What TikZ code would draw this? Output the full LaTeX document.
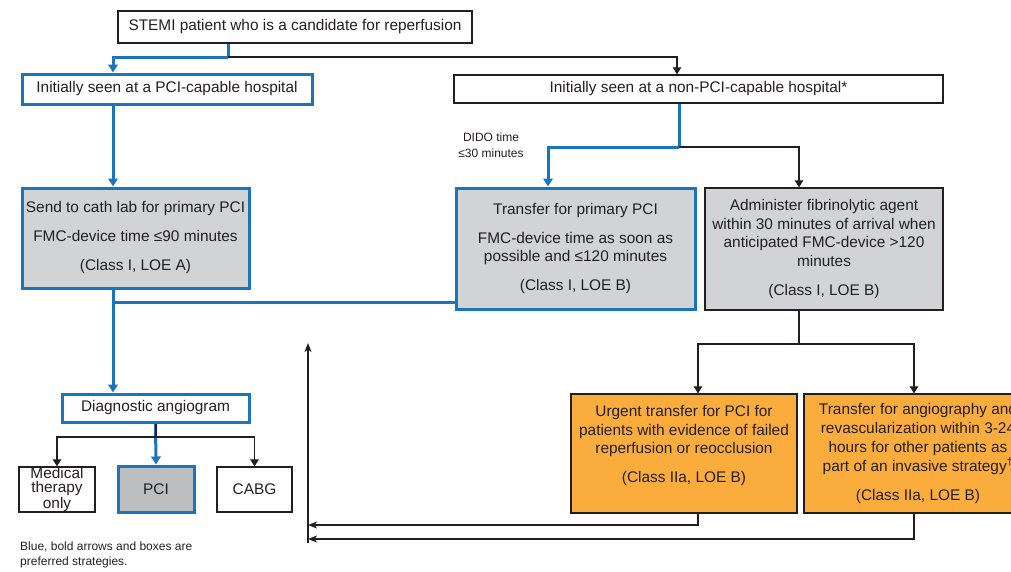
\documentclass[tikz,border=0pt]{standalone}
\usepackage{fontspec}
\setmainfont{Liberation Sans}
\usepackage{xcolor}
\usetikzlibrary{arrows.meta}

\definecolor{prefblue}{RGB}{27,117,188}
\definecolor{boxgray}{RGB}{209,211,212}
\definecolor{pcigray}{RGB}{188,190,192}
\definecolor{boxorange}{RGB}{250,173,60}
\definecolor{inkblack}{RGB}{35,31,32}

\tikzset{
  box/.style={draw=inkblack, line width=1.3pt, inner sep=0pt, align=center,
    text=inkblack, font=\fontsize{15.4}{18.7}\selectfont},
  prefbox/.style={box, draw=prefblue, line width=3pt},
  thinline/.style={draw=inkblack, line width=1.1pt, -{Triangle[length=7pt,width=8.5pt]}},
  backline/.style={draw=inkblack, line width=1.1pt, -{Stealth[length=9pt,width=7pt,inset=2.5pt]}},
  blueline/.style={draw=prefblue, line width=3pt, -{Triangle[length=8pt,width=9.5pt]}},
}

\begin{document}
\begin{tikzpicture}[x=1pt,y=-1pt]

\useasboundingbox (0,0) rectangle (1011,571);

% first level
\node[box, minimum width=354pt, minimum height=32pt] (top) at (295,27)
  {STEMI patient who is a candidate for reperfusion};
\node[prefbox, minimum width=290pt, minimum height=30pt] (pcih) at (167,89)
  {Initially seen at a PCI-capable hospital};
\node[box, minimum width=489pt, minimum height=28pt] (npcih) at (698.5,89)
  {Initially seen at a non-PCI-capable hospital*};

% reperfusion
\node[prefbox, fill=boxgray, minimum width=227pt, minimum height=100pt] (cath) at (135.5,238)
  {Send to cath lab for primary PCI\\[10.3pt] FMC-device time ≤90 minutes\\[10.3pt] (Class I, LOE A)};
\node[prefbox, fill=boxgray, minimum width=239pt, minimum height=121pt] (transfer) at (575.5,248.5)
  {Transfer for primary PCI\\[10.3pt] FMC-device time as soon as\\ possible and ≤120 minutes\\[10.3pt] (Class I, LOE B)};
\node[box, fill=boxgray, minimum width=238pt, minimum height=122pt] (fibrin) at (824,249)
  {Administer fibrinolytic agent\\ within 30 minutes of arrival when\\ anticipated FMC-device >120\\ minutes\\[10.3pt] (Class I, LOE B)};
\node[font=\fontsize{12}{16}\selectfont, text=inkblack, align=center, inner sep=0pt] (dido) at (491,145)
  {DIDO time\\ ≤30 minutes};

% angiogram
\node[prefbox, minimum width=187pt, minimum height=28pt] (diag) at (155.5,408)
  {Diagnostic angiogram};
\node[box, font=\fontsize{15.4}{14}\selectfont, minimum width=76pt, minimum height=45pt] (med) at (57,489.5)
  {Medical\\ therapy\\ only};
\node[prefbox, fill=pcigray, minimum width=76pt, minimum height=46pt] (pci) at (156,489) {PCI};
\node[box, minimum width=75pt, minimum height=45pt] (cabg) at (254.5,489.5) {CABG};

% after fibrinolysis
\node[box, fill=boxorange, minimum width=226pt, minimum height=119pt] (urgent) at (684,453.5)
  {Urgent transfer for PCI for\\ patients with evidence of failed\\ reperfusion or reocclusion\\[10.3pt] (Class IIa, LOE B)\\ \mbox{}};
\node[box, fill=boxorange, minimum width=228pt, minimum height=119pt] (angio) at (918,453.5)
  {Transfer for angiography and\\ revascularization within 3-24\\ hours for other patients as\\ part of an invasive strategy\textsuperscript{†}\\[10.3pt] (Class IIa, LOE B)};

\node[font=\fontsize{12}{15}\selectfont, text=inkblack, align=left, inner sep=0pt, anchor=north west] (note) at (20,542)
  {Blue, bold arrows and boxes are\\ preferred strategies.};

% splits and columns
\coordinate (s1) at (228,57);
\coordinate (s2) at (679,147);
\coordinate (s3) at (156,437);
\coordinate (s4) at (799,344);
\coordinate (c1) at (113,0);
\coordinate (c2) at (677,0);
\coordinate (c3) at (548,0);
\coordinate (c4) at (799,0);
\coordinate (c5) at (698,0);
\coordinate (c6) at (914,0);
\coordinate (j1) at (113,302);
\coordinate (r0) at (308,343);
\coordinate (r1) at (308,525);
\coordinate (r2) at (308,539);
\coordinate (r3) at (308,543);

\draw[blueline, -] (top.south -| s1) -- (s1);
\draw[blueline] (s1) -| (c1 |- pcih.north);
\draw[thinline] (s1) -| (c2 |- npcih.north);

\draw[blueline] (c1 |- pcih.south) -- (c1 |- cath.north);
\draw[blueline, -] (s2 |- npcih.south) -- (s2);
\draw[blueline] (s2) -| (c3 |- transfer.north);
\draw[thinline] (s2) -| (c4 |- fibrin.north);

\draw[blueline] (c1 |- cath.south) -- (c1 |- diag.north);
\draw[blueline, -] (transfer.west |- j1) -- (j1);

\draw[blueline] (diag.south) -- (pci.north);
\draw[thinline, -] (s3 |- diag.south) -- (s3);
\draw[thinline] (s3) -| (med.north);
\draw[thinline] (s3) -| (cabg.north);

\draw[thinline, -] (c4 |- fibrin.south) -- (s4);
\draw[thinline] (s4) -| (c5 |- urgent.north);
\draw[thinline] (s4) -| (c6 |- angio.north);

\draw[backline] (c5 |- urgent.south) |- (r1);
\draw[backline] (c6 |- angio.south) |- (r2);
\draw[backline] (r3) -- (r0);

\end{tikzpicture}
\end{document}
